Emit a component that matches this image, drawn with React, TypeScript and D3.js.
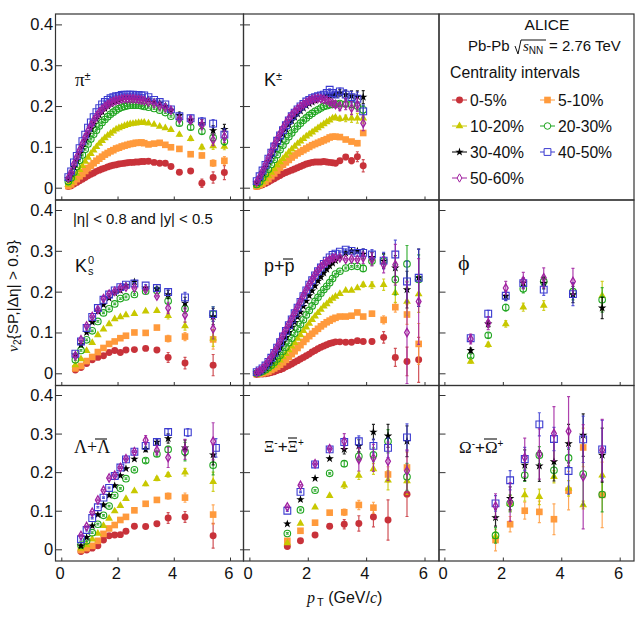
import * as d3 from "d3";
import React, { useEffect, useRef } from "react";

const seriesNames = ["0-5%", "5-10%", "10-20%", "20-30%", "30-40%", "40-50%", "50-60%"];
const seriesColors = ["#c8323a", "#ff9a3c", "#c8c800", "#1fa51f", "#000000", "#3b3bd0", "#a020a0"];

const yTicks = [0, 0.1, 0.2, 0.3, 0.4];
const xTicks = [0, 2, 4, 6];

// pT bins shared by pi and p
const xPion = [
  0.25, 0.35, 0.45, 0.55, 0.65, 0.75, 0.85, 0.95, 1.05, 1.15, 1.25, 1.35, 1.45, 1.55, 1.65, 1.75, 1.85, 1.95, 2.05,
  2.15, 2.25, 2.35, 2.45, 2.55, 2.65, 2.75, 2.85, 2.95, 3.1, 3.3, 3.5, 3.7, 3.9, 4.2, 4.6, 5.0, 5.4, 5.8,
];
const xKaon = [
  0.25, 0.35, 0.45, 0.55, 0.65, 0.75, 0.85, 0.95, 1.05, 1.15, 1.25, 1.35, 1.45, 1.55, 1.65, 1.75, 1.85, 1.95, 2.05,
  2.15, 2.25, 2.35, 2.45, 2.55, 2.65, 2.75, 2.85, 2.95, 3.1, 3.3, 3.5, 3.7, 3.9,
];
const xK0 = [0.5, 0.7, 0.9, 1.1, 1.3, 1.5, 1.7, 1.9, 2.1, 2.3, 2.6, 3.0, 3.4, 3.8, 4.4, 5.4];
const xPhi = [0.9, 1.5, 2.1, 2.7, 3.4, 4.4, 5.4];
const xLambda = [0.7, 0.9, 1.1, 1.3, 1.5, 1.7, 1.9, 2.1, 2.3, 2.6, 3.0, 3.4, 3.8, 4.4, 5.4];
const xLambdaBlue = [0.7, 0.9, 1.1, 1.3, 1.5, 1.7, 1.9, 2.1, 2.3, 2.6, 3.0, 3.4, 3.8, 4.5, 5.5];
const xXi = [1.3, 1.75, 2.25, 2.75, 3.25, 3.75, 4.25, 4.75, 5.4];
const xOmega = [1.75, 2.25, 2.75, 3.25, 3.75, 4.25, 4.75, 5.4];

type Row = (number | null)[];

const pion: Row[] = [
  [0.003, 0.005, 0.009, 0.013, 0.017, 0.021, 0.025, 0.029, 0.033, 0.036, 0.04, 0.043, 0.046, 0.048, 0.051, 0.053, 0.055, 0.056, 0.058, 0.059, 0.06, 0.061, 0.062, 0.062, 0.063, 0.063, 0.064, 0.064, 0.065, 0.062, 0.06, 0.06, 0.052, 0.038, 0.041, 0.011, 0.025, 0.037],
  [0.004, 0.008, 0.014, 0.021, 0.028, 0.034, 0.041, 0.048, 0.054, 0.06, 0.066, 0.071, 0.076, 0.081, 0.085, 0.089, 0.092, 0.096, 0.098, 0.101, 0.103, 0.105, 0.107, 0.108, 0.11, 0.11, 0.111, 0.109, 0.106, 0.108, 0.11, 0.105, 0.099, 0.095, 0.082, 0.079, 0.06, 0.066],
  [0.008, 0.014, 0.024, 0.034, 0.044, 0.054, 0.064, 0.074, 0.083, 0.092, 0.1, 0.108, 0.115, 0.122, 0.128, 0.133, 0.138, 0.143, 0.146, 0.149, 0.152, 0.154, 0.156, 0.157, 0.158, 0.159, 0.159, 0.16, 0.158, 0.155, 0.15, 0.146, 0.142, 0.13, 0.12, 0.099, 0.102, 0.101],
  [0.015, 0.024, 0.038, 0.052, 0.067, 0.08, 0.094, 0.107, 0.119, 0.131, 0.141, 0.151, 0.16, 0.167, 0.174, 0.18, 0.185, 0.19, 0.194, 0.197, 0.199, 0.201, 0.202, 0.202, 0.202, 0.202, 0.201, 0.199, 0.197, 0.194, 0.19, 0.184, 0.175, 0.158, 0.148, 0.138, 0.123, 0.113],
  [0.022, 0.034, 0.05, 0.067, 0.084, 0.1, 0.116, 0.13, 0.144, 0.156, 0.168, 0.178, 0.186, 0.194, 0.2, 0.205, 0.209, 0.212, 0.215, 0.217, 0.219, 0.22, 0.22, 0.221, 0.22, 0.22, 0.219, 0.217, 0.215, 0.21, 0.207, 0.2, 0.19, 0.177, 0.166, 0.157, 0.14, 0.143],
  [0.026, 0.04, 0.062, 0.078, 0.097, 0.114, 0.13, 0.147, 0.16, 0.173, 0.185, 0.195, 0.204, 0.21, 0.215, 0.219, 0.222, 0.224, 0.225, 0.227, 0.228, 0.228, 0.228, 0.228, 0.227, 0.227, 0.226, 0.226, 0.222, 0.215, 0.21, 0.204, 0.192, 0.175, 0.17, 0.162, 0.157, 0.13],
  [0.024, 0.038, 0.058, 0.075, 0.092, 0.108, 0.124, 0.139, 0.152, 0.164, 0.175, 0.185, 0.192, 0.199, 0.204, 0.208, 0.211, 0.214, 0.215, 0.217, 0.218, 0.218, 0.218, 0.218, 0.217, 0.216, 0.215, 0.213, 0.21, 0.206, 0.2, 0.196, 0.19, 0.168, 0.166, 0.154, 0.117, 0.125],
];
const pionErr = [
  [0.005, 0.006, 0.01, 0.014, 0.017],
  [0.004, 0.005, 0.006, 0.008, 0.01],
  [0.004, 0.005, 0.006, 0.008, 0.008],
  [0.005, 0.006, 0.007, 0.009, 0.009],
  [0.008, 0.008, 0.01, 0.012, 0.012],
  [0.006, 0.008, 0.01, 0.01, 0.014],
  [0.006, 0.009, 0.012, 0.014, 0.014],
];

const kaon: Row[] = [
  [0.003, 0.005, 0.007, 0.01, 0.014, 0.018, 0.022, 0.026, 0.03, 0.034, 0.037, 0.04, 0.043, 0.046, 0.049, 0.052, 0.055, 0.058, 0.06, 0.062, 0.063, 0.063, 0.063, 0.064, 0.063, 0.062, 0.061, 0.06, 0.066, 0.075, 0.066, 0.076, 0.054],
  [0.003, 0.006, 0.01, 0.015, 0.021, 0.028, 0.035, 0.042, 0.049, 0.056, 0.062, 0.068, 0.074, 0.079, 0.084, 0.088, 0.092, 0.096, 0.1, 0.104, 0.107, 0.11, 0.113, 0.116, 0.119, 0.123, 0.125, 0.125, 0.124, 0.118, 0.113, 0.109, 0.134],
  [0.004, 0.008, 0.014, 0.021, 0.029, 0.037, 0.046, 0.055, 0.063, 0.071, 0.079, 0.087, 0.094, 0.101, 0.108, 0.114, 0.12, 0.126, 0.131, 0.136, 0.141, 0.146, 0.151, 0.156, 0.161, 0.165, 0.17, 0.172, 0.169, 0.17, 0.17, 0.17, 0.17],
  [0.008, 0.014, 0.024, 0.034, 0.045, 0.057, 0.069, 0.081, 0.093, 0.104, 0.115, 0.125, 0.134, 0.143, 0.151, 0.158, 0.165, 0.171, 0.177, 0.182, 0.187, 0.191, 0.195, 0.199, 0.201, 0.203, 0.204, 0.205, 0.206, 0.205, 0.204, 0.2, 0.191],
  [0.013, 0.024, 0.037, 0.05, 0.064, 0.078, 0.092, 0.106, 0.119, 0.131, 0.143, 0.154, 0.164, 0.173, 0.181, 0.188, 0.195, 0.201, 0.206, 0.21, 0.214, 0.218, 0.221, 0.223, 0.225, 0.226, 0.227, 0.228, 0.232, 0.228, 0.225, 0.223, 0.222],
  [0.016, 0.028, 0.042, 0.056, 0.071, 0.086, 0.101, 0.115, 0.128, 0.141, 0.153, 0.165, 0.175, 0.184, 0.192, 0.199, 0.205, 0.211, 0.215, 0.219, 0.222, 0.224, 0.226, 0.228, 0.232, 0.24, 0.232, 0.228, 0.236, 0.228, 0.222, 0.218, 0.187],
  [0.014, 0.026, 0.041, 0.057, 0.073, 0.089, 0.105, 0.119, 0.133, 0.146, 0.158, 0.169, 0.178, 0.186, 0.193, 0.199, 0.204, 0.209, 0.213, 0.216, 0.218, 0.219, 0.218, 0.216, 0.214, 0.21, 0.207, 0.204, 0.199, 0.205, 0.195, 0.203, 0.158],
];
const kaonErr = [
  [0.004, 0.005, 0.006, 0.007, 0.012, 0.015],
  [0.003, 0.004, 0.004, 0.005, 0.006, 0.006],
  [0.004, 0.006, 0.008, 0.01, 0.012, 0.012],
  [0.004, 0.005, 0.006, 0.008, 0.01, 0.01],
  [0.005, 0.008, 0.01, 0.012, 0.014, 0.016],
  [0.006, 0.008, 0.012, 0.014, 0.016, 0.016],
  [0.008, 0.01, 0.014, 0.016, 0.016, 0.018],
];

const k0: Row[] = [
  [0.008, 0.014, 0.024, 0.033, 0.039, 0.043, 0.051, 0.056, 0.051, 0.057, 0.058, 0.061, 0.057, 0.039, 0.025, 0.02],
  [0.012, 0.018, 0.03, 0.04, 0.052, 0.062, 0.072, 0.078, 0.086, 0.092, 0.1, 0.099, 0.112, 0.085, 0.09, 0.083],
  [0.02, 0.035, 0.055, 0.075, 0.094, 0.108, 0.121, 0.133, 0.138, 0.143, 0.146, 0.152, 0.153, 0.141, 0.116, 0.086],
  [0.033, 0.056, 0.082, 0.104, 0.127, 0.148, 0.158, 0.17, 0.183, 0.187, 0.193, 0.201, 0.203, 0.177, 0.158, 0.145],
  [0.045, 0.07, 0.1, 0.125, 0.152, 0.168, 0.184, 0.197, 0.203, 0.215, 0.224, 0.209, 0.207, 0.193, 0.172, 0.139],
  [0.048, 0.078, 0.111, 0.138, 0.16, 0.18, 0.193, 0.203, 0.211, 0.217, 0.22, 0.215, 0.209, 0.199, 0.186, 0.145],
  [0.043, 0.082, 0.116, 0.139, 0.156, 0.183, 0.194, 0.201, 0.209, 0.211, 0.209, 0.205, 0.189, 0.16, 0.143, 0.109],
];
const k0Err = [
  [0.012, 0.014, 0.026],
  [0.008, 0.01, 0.024],
  [0.008, 0.01, 0.02],
  [0.008, 0.012, 0.018],
  [0.01, 0.014, 0.02],
  [0.008, 0.012, 0.018],
  [0.014, 0.018, 0.025],
];

const proton: Row[] = [
  [-0.003, -0.002, -0.002, -0.001, 0, 0.002, 0.004, 0.007, 0.009, 0.012, 0.016, 0.019, 0.023, 0.027, 0.031, 0.035, 0.039, 0.043, 0.047, 0.052, 0.056, 0.06, 0.064, 0.067, 0.07, 0.073, 0.075, 0.077, 0.077, 0.076, 0.076, 0.08, 0.078, 0.078, 0.088, 0.039, 0.029, 0.033],
  [-0.002, -0.001, 0, 0.002, 0.004, 0.008, 0.012, 0.016, 0.021, 0.027, 0.033, 0.04, 0.047, 0.054, 0.062, 0.069, 0.077, 0.084, 0.091, 0.097, 0.103, 0.109, 0.115, 0.12, 0.125, 0.129, 0.133, 0.136, 0.139, 0.139, 0.141, 0.149, 0.139, 0.146, 0.131, 0.162, 0.144, 0.072],
  [-0.001, 0, 0.002, 0.005, 0.009, 0.014, 0.019, 0.025, 0.032, 0.04, 0.048, 0.057, 0.066, 0.075, 0.085, 0.094, 0.104, 0.113, 0.122, 0.131, 0.14, 0.148, 0.156, 0.164, 0.17, 0.177, 0.183, 0.188, 0.195, 0.203, 0.203, 0.209, 0.217, 0.216, 0.217, 0.197, 0.176, 0.194],
  [0, 0.002, 0.005, 0.009, 0.014, 0.02, 0.027, 0.035, 0.044, 0.054, 0.064, 0.075, 0.086, 0.098, 0.109, 0.12, 0.131, 0.143, 0.154, 0.165, 0.176, 0.186, 0.196, 0.205, 0.213, 0.222, 0.232, 0.243, 0.25, 0.258, 0.262, 0.262, 0.257, 0.275, 0.275, 0.23, 0.268, 0.23],
  [0.001, 0.004, 0.008, 0.014, 0.021, 0.03, 0.04, 0.051, 0.063, 0.075, 0.088, 0.1, 0.113, 0.125, 0.138, 0.15, 0.164, 0.177, 0.19, 0.202, 0.214, 0.226, 0.236, 0.246, 0.255, 0.263, 0.27, 0.276, 0.285, 0.295, 0.299, 0.299, 0.292, 0.284, 0.275, 0.258, 0.205, 0.234],
  [0.003, 0.007, 0.012, 0.019, 0.028, 0.038, 0.05, 0.063, 0.076, 0.09, 0.104, 0.118, 0.132, 0.147, 0.161, 0.175, 0.189, 0.203, 0.217, 0.228, 0.24, 0.25, 0.259, 0.268, 0.276, 0.284, 0.29, 0.293, 0.298, 0.303, 0.3, 0.295, 0.295, 0.291, 0.276, 0.291, 0.225, 0.234],
  [0.002, 0.006, 0.012, 0.02, 0.03, 0.04, 0.052, 0.065, 0.079, 0.093, 0.107, 0.121, 0.135, 0.149, 0.163, 0.177, 0.191, 0.205, 0.218, 0.23, 0.242, 0.252, 0.261, 0.268, 0.274, 0.278, 0.282, 0.283, 0.283, 0.279, 0.28, 0.279, 0.283, 0.279, 0.266, 0.266, 0.1, 0.176],
];
const protonErr = [
  [0.004, 0.006, 0.014, 0.022, 0.035, 0.055],
  [0.004, 0.006, 0.01, 0.012, 0.024, 0.05],
  [0.006, 0.008, 0.014, 0.024, 0.034, 0.045],
  [0.008, 0.01, 0.016, 0.038, 0.045, 0.06],
  [0.012, 0.012, 0.018, 0.03, 0.045, 0.07],
  [0.01, 0.012, 0.02, 0.035, 0.05, 0.07],
  [0.014, 0.016, 0.02, 0.05, 0.125, 0.105],
];

const phi: Row[] = [
  [],
  [],
  [0.029, 0.07, 0.121, 0.162, 0.166, null, 0.19],
  [0.043, 0.093, 0.161, 0.207, 0.225, 0.2, 0.18],
  [0.056, 0.121, 0.189, 0.221, 0.221, 0.193, 0.16],
  [0.086, 0.146, 0.19, 0.221, 0.205, 0.194, null],
  [0.084, 0.123, 0.209, 0.227, 0.234, 0.225, null],
];
const phiErr = [
  [],
  [],
  [0.004, 0.006, 0.008, 0.01, 0.012, 0, 0.035],
  [0.004, 0.006, 0.008, 0.01, 0.012, 0.02, 0.03],
  [0.006, 0.008, 0.01, 0.012, 0.014, 0.02, 0.026],
  [0.006, 0.008, 0.012, 0.012, 0.014, 0.028, 0],
  [0.012, 0.016, 0.016, 0.02, 0.024, 0.032, 0],
];

const lambda: Row[] = [
  [-0.006, -0.002, 0.003, 0.009, 0.024, 0.035, 0.037, 0.038, 0.047, 0.06, 0.059, 0.066, 0.081, 0.084, 0.035],
  [-0.002, 0.003, 0.009, 0.022, 0.04, 0.054, 0.063, 0.076, 0.084, 0.101, 0.118, 0.128, 0.138, 0.134, 0.09],
  [0.003, 0.011, 0.026, 0.041, 0.061, 0.08, 0.099, 0.113, 0.131, 0.151, 0.169, 0.183, 0.193, 0.2, 0.175],
  [0.011, 0.022, 0.043, 0.065, 0.088, 0.112, 0.14, 0.158, 0.183, 0.206, 0.23, 0.247, 0.259, 0.253, 0.218],
  [0.009, 0.031, 0.061, 0.09, 0.115, 0.14, 0.165, 0.191, 0.209, 0.234, 0.259, 0.278, 0.287, 0.263, 0.245],
  [0.026, 0.05, 0.081, 0.109, 0.134, 0.159, 0.19, 0.212, 0.233, 0.253, 0.268, 0.278, 0.304, 0.303, 0.263],
  [0.036, 0.059, 0.096, 0.128, 0.153, 0.185, 0.192, 0.212, 0.235, 0.253, 0.283, 0.257, 0.238, 0.259, 0.28],
];
const lambdaErr = [
  [0.004, 0.005, 0.014, 0.014, 0.032],
  [0.004, 0.005, 0.008, 0.012, 0.025],
  [0.004, 0.005, 0.006, 0.01, 0.025],
  [0.005, 0.006, 0.008, 0.024, 0.025],
  [0.006, 0.008, 0.012, 0.02, 0.026],
  [0.006, 0.008, 0.008, 0.01, 0.024],
  [0.012, 0.012, 0.026, 0.026, 0.048],
];

const xi: Row[] = [
  [0.007, 0.022, 0.037, 0.06, 0.065, 0.067, 0.084, 0.076, 0.143],
  [0.022, 0.048, 0.069, 0.095, 0.096, 0.115, 0.108, 0.194, 0.212],
  [0.016, 0.067, 0.109, 0.139, 0.166, 0.191, 0.208, 0.179, 0.177],
  [0.041, 0.102, 0.153, 0.197, 0.222, 0.241, 0.245, 0.28, 0.188],
  [0.066, 0.129, 0.184, 0.235, 0.259, 0.268, 0.304, 0.294, 0.28],
  [0.1, 0.149, 0.22, 0.259, 0.278, 0.28, 0.268, 0.263, 0.29],
  [0.11, 0.166, 0.222, 0.261, 0.28, 0.233, 0.237, 0.228, 0.203],
];
const xiErr = [
  [0.012, 0.02, 0.026, 0.052, 0.058],
  [0.008, 0.012, 0.014, 0.02, 0.04],
  [0.008, 0.01, 0.014, 0.025, 0.035],
  [0.008, 0.012, 0.018, 0.03, 0.035],
  [0.012, 0.016, 0.02, 0.03, 0.04],
  [0.01, 0.014, 0.018, 0.025, 0.035],
  [0.02, 0.03, 0.035, 0.05, 0.055],
];

const omega: Row[] = [
  [],
  [0.024, 0.065, 0.1, 0.097, 0.078, 0.152, 0.264, 0.141],
  [0.033, 0.119, 0.141, 0.136, 0.188, 0.158, 0.115, 0.192],
  [0.036, 0.119, 0.192, 0.244, 0.205, 0.237, 0.195, 0.142],
  [0.082, 0.132, 0.218, 0.216, 0.227, 0.274, 0.296, 0.244],
  [0.119, 0.179, 0.234, 0.324, 0.286, 0.203, 0.285, 0.259],
  [0.112, 0.123, 0.238, 0.247, 0.3, 0.306, 0.188, 0.257],
];
const omegaErr = [
  [],
  [0.028, 0.02, 0.022, 0.028, 0.04, 0.05, 0.05, 0.085],
  [0.012, 0.02, 0.016, 0.02, 0.016, 0.02, 0.01, 0.05],
  [0.02, 0.022, 0.016, 0.022, 0.018, 0.022, 0.08, 0.045],
  [0.022, 0.03, 0.04, 0.04, 0.05, 0.05, 0.055, 0.07],
  [0.02, 0.025, 0.03, 0.03, 0.03, 0.06, 0.06, 0.075],
  [0.032, 0.05, 0.05, 0.065, 0.07, 0.09, 0.135, 0.08],
];

const colEdges = [55.5, 243.5, 439, 634];
const rowEdges = [14, 200, 385.5, 561];
// pixel position of x=0 and of x=6 in each column, y=0 and y=0.4 in each row
const xRanges = [[61.3, 230], [249.4, 424.5], [444.4, 619.7]];
const yRanges = [[187.7, 24.4], [373.3, 210], [549.3, 395]];

const panels = [
  { col: 0, row: 0, xs: [xPion], ys: pion, errs: pionErr },
  { col: 1, row: 0, xs: [xKaon], ys: kaon, errs: kaonErr },
  { col: 0, row: 1, xs: [xK0], ys: k0, errs: k0Err },
  { col: 1, row: 1, xs: [xPion], ys: proton, errs: protonErr },
  { col: 2, row: 1, xs: [xPhi], ys: phi, errs: phiErr },
  { col: 0, row: 2, xs: [xLambda, xLambda, xLambda, xLambda, xLambda, xLambdaBlue, xLambda], ys: lambda, errs: lambdaErr },
  { col: 1, row: 2, xs: [xXi], ys: xi, errs: xiErr },
  { col: 2, row: 2, xs: [xOmega], ys: omega, errs: omegaErr },
];

const sans = "'Liberation Sans', Arial, sans-serif";
const serif = "'Liberation Serif', 'Times New Roman', serif";

const markers = [
  d3.symbol(d3.symbolCircle, 38),
  d3.symbol(d3.symbolSquare, 44),
  d3.symbol(d3.symbolTriangle, 26),
  d3.symbol(d3.symbolCircle, 34),
  d3.symbol(d3.symbolStar, 22),
  d3.symbol(d3.symbolSquare, 46),
  d3.symbol(d3.symbolDiamond, 20),
];
const isOpen = [false, false, false, true, false, true, true];
const openStroke = [0, 0, 0, 1.1, 0, 1.1, 1.3];

type Part = { t: string; italic?: boolean; dy?: number; size?: number; font?: string; dx?: number };

const App: React.FC = () => {
  const ref = useRef<SVGSVGElement>(null);

  useEffect(() => {
    if (!ref.current) return;
    const svg = d3.select(ref.current);
    svg.selectAll("*").remove();

    const drawText = (parent: any, x: number, y: number, size: number, parts: Part[], anchor = "start") => {
      const text = parent
        .append("text")
        .attr("x", x)
        .attr("y", y)
        .attr("text-anchor", anchor)
        .attr("font-family", sans)
        .attr("font-size", size)
        .attr("fill", "#111");
      parts.forEach((p) => {
        const span = text.append("tspan").text(p.t);
        if (p.italic) span.attr("font-style", "italic");
        if (p.dy) span.attr("dy", p.dy);
        if (p.dx) span.attr("dx", p.dx);
        if (p.size) span.attr("font-size", p.size);
        if (p.font) span.attr("font-family", p.font);
      });
      return text;
    };

    const overline = (x1: number, x2: number, y: number) =>
      svg.append("line").attr("x1", x1).attr("x2", x2).attr("y1", y).attr("y2", y).attr("stroke", "#111").attr("stroke-width", 1.1);

    // frames and axes for each of the nine cells
    for (let row = 0; row < 3; row++) {
      for (let col = 0; col < 3; col++) {
        const x = d3.scaleLinear().domain([0, 6]).range(xRanges[col]);
        const y = d3.scaleLinear().domain([0, 0.4]).range(yRanges[row]);
        if (!(col === 2 && row === 0)) {
          const left = svg
            .append("g")
            .attr("transform", `translate(${colEdges[col]},0)`)
            .call(d3.axisRight(y).tickValues(yTicks).tickSize(6.5).tickFormat(() => ""));
          left.select(".domain").remove();
          left.selectAll(".tick line").attr("stroke", "#333").attr("stroke-width", 1);
          if (col === 0) {
            const right = svg
              .append("g")
              .attr("transform", `translate(${colEdges[1]},0)`)
              .call(d3.axisLeft(y).tickValues(yTicks).tickSize(3.5).tickFormat(() => ""));
            right.select(".domain").remove();
            right.selectAll(".tick line").attr("stroke", "#333").attr("stroke-width", 1);
          }
          const bottom = svg
            .append("g")
            .attr("transform", `translate(0,${rowEdges[row + 1]})`)
            .call(d3.axisTop(x).tickValues(xTicks).tickSize(3.5).tickFormat(() => ""));
          bottom.select(".domain").remove();
          bottom.selectAll(".tick line").attr("stroke", "#333").attr("stroke-width", 1);
        }
        svg
          .append("rect")
          .attr("x", colEdges[col])
          .attr("y", rowEdges[row])
          .attr("width", colEdges[col + 1] - colEdges[col])
          .attr("height", rowEdges[row + 1] - rowEdges[row])
          .attr("fill", "none")
          .attr("stroke", "#333")
          .attr("stroke-width", 1.2);

        if (col === 0) {
          yTicks.forEach((t) => {
            svg
              .append("text")
              .attr("x", 53.3)
              .attr("y", y(t) + 6)
              .attr("text-anchor", "end")
              .attr("font-family", sans)
              .attr("font-size", 16.5)
              .attr("fill", "#111")
              .text(t === 0 ? "0" : t.toFixed(1));
          });
        }
        if (row === 2) {
          xTicks.forEach((t) => {
            svg
              .append("text")
              .attr("x", x(t) - 1.2)
              .attr("y", 578.5)
              .attr("text-anchor", "middle")
              .attr("font-family", sans)
              .attr("font-size", 16.5)
              .attr("fill", "#111")
              .text(String(t));
          });
        }
      }
    }

    // markers with their error bars
    panels.forEach((panel) => {
      const x = d3.scaleLinear().domain([0, 6]).range(xRanges[panel.col]);
      const y = d3.scaleLinear().domain([0, 0.4]).range(yRanges[panel.row]);
      const g = svg.append("g");
      panel.ys.forEach((values, s) => {
        const xs = panel.xs[s] ?? panel.xs[0];
        const errs = panel.errs[s];
        const color = seriesColors[s];
        const points = values
          .map((v, i) => {
            const fromEnd = values.length - i;
            const e = errs[errs.length - fromEnd];
            return { x: xs[i], v, e: e ?? 0.002 };
          })
          .filter((p) => p.v !== null) as { x: number; v: number; e: number }[];
        const group = g.append("g");
        group
          .selectAll("path.err")
          .data(points)
          .enter()
          .append("path")
          .attr("class", "err")
          .attr("d", (p) => {
            const px = x(p.x);
            const hi = y(p.v + p.e);
            const lo = y(p.v - p.e);
            return `M${px},${hi}V${lo}M${px - 1.5},${hi}H${px + 1.5}M${px - 1.5},${lo}H${px + 1.5}`;
          })
          .attr("fill", "none")
          .attr("stroke", color)
          .attr("stroke-width", 1.2)
          .attr("stroke-opacity", 0.85);
        group
          .selectAll("path.mark")
          .data(points)
          .enter()
          .append("path")
          .attr("class", "mark")
          .attr("transform", (p) => `translate(${x(p.x)},${y(p.v)})`)
          .attr("d", markers[s]() as string)
          .attr("fill", isOpen[s] ? "none" : color)
          .attr("stroke", isOpen[s] ? color : "none")
          .attr("stroke-width", openStroke[s]);
      });
    });

    // particle labels
    drawText(svg, 75, 86, 19, [{ t: "π", font: serif }, { t: "±", dy: -6, size: 11 }]);
    drawText(svg, 264, 86, 18, [{ t: "K" }, { t: "±", dy: -6, size: 11 }]);
    drawText(svg, 75, 272, 18, [{ t: "K" }]);
    drawText(svg, 88, 264, 11, [{ t: "0" }]);
    drawText(svg, 88, 275, 11, [{ t: "s" }]);
    drawText(svg, 264, 272, 18, [{ t: "p+p" }]);
    overline(283, 293, 259);
    drawText(svg, 458, 270, 22, [{ t: "ϕ", font: serif }]);
    drawText(svg, 74, 453, 18, [{ t: "Λ+Λ", font: serif }]);
    overline(95, 107, 439);
    drawText(svg, 264, 452, 16, [{ t: "Ξ", font: serif }, { t: "-", dy: -6, size: 10 }, { t: "+", dy: 6, size: 17 }, { t: "Ξ", font: serif }, { t: "+", dy: -6, size: 10 }]);
    overline(288, 297, 438);
    drawText(svg, 459, 453, 17, [{ t: "Ω", font: serif }, { t: "-", dy: -6, size: 10 }, { t: "+", dy: 6, size: 17 }, { t: "Ω", font: serif }, { t: "+", dy: -6, size: 10 }]);
    overline(484, 497, 439);
    drawText(svg, 73, 224, 14.9, [{ t: "|η| < 0.8 and |y| < 0.5" }]);

    // axis titles
    drawText(svg, 307, 603, 16, [
      { t: "p", italic: true, font: serif },
      { t: "T", dy: 3, size: 11, dx: 2 },
      { t: " (GeV/", dy: -3 },
      { t: "c", italic: true, font: serif },
      { t: ")" },
    ]);
    const yTitle = svg.append("g").attr("transform", "translate(17.5,352) rotate(-90)");
    drawText(yTitle, 0, 0, 15.5, [
      { t: "v", italic: true, font: serif },
      { t: "2", dy: 3, size: 10 },
      { t: "{SP,|Δη| > 0.9}", dy: -3 },
    ]);

    // top right header and legend
    drawText(svg, 547, 30, 15.5, [{ t: "ALICE" }], "middle");
    drawText(svg, 468, 51, 15, [{ t: "Pb-Pb" }]);
    svg.append("path").attr("d", "M515,46L518,54L521,40H546").attr("fill", "none").attr("stroke", "#111").attr("stroke-width", 1);
    drawText(svg, 523, 51, 15, [{ t: "s", italic: true, font: serif }, { t: "NN", dy: 3, size: 10 }]);
    drawText(svg, 549, 51, 15, [{ t: "= 2.76 TeV" }]);
    drawText(svg, 450, 78, 15.8, [{ t: "Centrality intervals" }]);

    const legendX = d3.scalePoint<number>().domain([0, 1]).range([459.5, 547.5]);
    const legendY = d3.scalePoint<number>().domain([0, 1, 2, 3]).range([100, 178]);
    seriesNames.forEach((name, s) => {
      const cx = legendX(s % 2) as number;
      const cy = legendY(Math.floor(s / 2)) as number;
      const color = seriesColors[s];
      svg.append("line").attr("x1", cx - 7.5).attr("x2", cx + 7.5).attr("y1", cy).attr("y2", cy).attr("stroke", color).attr("stroke-width", 1);
      svg
        .append("path")
        .attr("transform", `translate(${cx},${cy})`)
        .attr("d", markers[s]() as string)
        .attr("fill", isOpen[s] ? "#fff" : color)
        .attr("stroke", isOpen[s] ? color : "none")
        .attr("stroke-width", 1);
      drawText(svg, cx + 10.5, cy + 5.5, 15.7, [{ t: name }]);
    });
  }, []);

  return <svg ref={ref} width={644} height={617} style={{ position: "absolute", left: 0, top: 0, background: "#fff" }} />;
};

export default App;
